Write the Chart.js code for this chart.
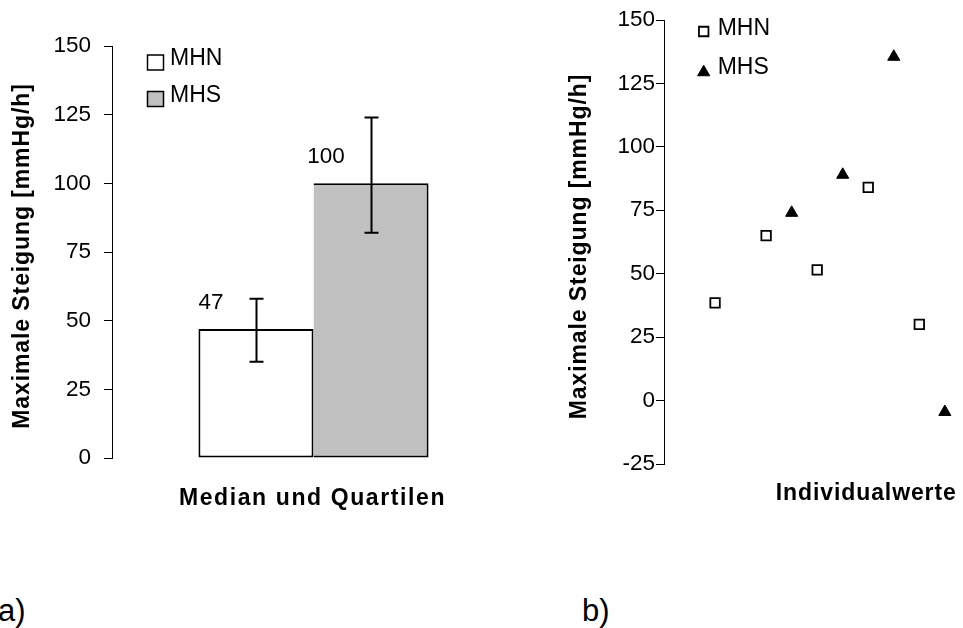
<!DOCTYPE html>
<html>
<head>
<meta charset="utf-8">
<title>Maximale Steigung</title>
<script src="https://cdn.jsdelivr.net/npm/chart.js@4.4.1/dist/chart.umd.min.js"></script>
<style>
  html, body { margin: 0; padding: 0; background: #fff; overflow: hidden; }
  #wrap { position: relative; width: 963px; height: 628px; overflow: hidden; background: #fff; }
  #wrap canvas { position: absolute; top: 0; }
  #chartA { left: 0; }
  #chartB { left: 540px; }
  .panel { position: absolute; font-family: 'Liberation Sans', Arial, Helvetica, sans-serif;
           font-size: 31px; line-height: 31px; color: #000; white-space: nowrap; }
</style>
</head>
<body>
<div id="wrap">
  <canvas id="chartA" width="515" height="560"></canvas>
  <canvas id="chartB" width="541" height="560"></canvas>
  <div class="panel" style="left:-2px; top:595px;">a)</div>
  <div class="panel" style="left:582px; top:595px;">b)</div>
</div>
<script>
// ---- data: panel a) median with quartiles ----
const groupLabels = ['Median und Quartilen'];
const seriesNames = ['MHN', 'MHS'];
const medianMHN = [47];
const medianMHS = [100];
const lowerQuartile = [35, 82];   // MHN, MHS
const upperQuartile = [58, 124];  // MHN, MHS
const yTicksA = [0, 25, 50, 75, 100, 125, 150];

// ---- data: panel b) individual values ----
const mhnIndex = [1, 3, 5, 7, 9];
const mhnValues = [38.5, 65, 51.5, 84, 30];
const mhsIndex = [4, 6, 8, 10];
const mhsValues = [74, 89, 135.5, -4.5];
const yTicksB = [-25, 0, 25, 50, 75, 100, 125, 150];

const yTitle = 'Maximale Steigung [mmHg/h]';
const xTitleA = 'Median und Quartilen';
const xTitleB = 'Individualwerte';

const FONT = "'Liberation Sans', Arial, Helvetica, sans-serif";

// whiskers from lower to upper quartile, centred on each bar
const quartileBars = {
  id: 'quartileBars',
  afterDatasetsDraw(chart, args, opts) {
    const ctx = chart.ctx, y = chart.scales.y;
    ctx.save();
    ctx.strokeStyle = '#000';
    ctx.lineWidth = opts.lineWidth;
    chart.data.datasets.forEach((ds, i) => {
      const bar = chart.getDatasetMeta(i).data[0];
      if (!bar) return;
      const x = Math.round(bar.x) + 0.5;
      const yl = y.getPixelForValue(opts.low[i]);
      const yh = y.getPixelForValue(opts.high[i]);
      const c = opts.capWidth / 2;
      ctx.beginPath();
      ctx.moveTo(x, yl); ctx.lineTo(x, yh);
      ctx.moveTo(x - c, yh); ctx.lineTo(x + c, yh);
      ctx.moveTo(x - c, yl); ctx.lineTo(x + c, yl);
      ctx.stroke();
    });
    ctx.restore();
  }
};

// value labels above each bar
const valueLabels = {
  id: 'valueLabels',
  afterDatasetsDraw(chart, args, opts) {
    const ctx = chart.ctx;
    ctx.save();
    ctx.fillStyle = '#000';
    ctx.font = opts.size + 'px ' + FONT;
    ctx.textAlign = 'center';
    ctx.textBaseline = 'middle';
    chart.data.datasets.forEach((ds, i) => {
      const bar = chart.getDatasetMeta(i).data[0];
      if (!bar) return;
      ctx.fillText(String(ds.data[0]), bar.x + opts.dx, bar.y + opts.dy);
    });
    ctx.restore();
  }
};

function drawMarker(ctx, style, x, y, r) {
  ctx.beginPath();
  if (style === 'triangle') {
    const a = 2 * Math.PI / 3;
    ctx.moveTo(x, y - r);
    ctx.lineTo(x + Math.sin(a) * r, y - Math.cos(a) * r);
    ctx.lineTo(x + Math.sin(2 * a) * r, y - Math.cos(2 * a) * r);
    ctx.closePath();
  } else {
    const s = Math.SQRT1_2 * r;
    ctx.rect(x - s, y - s, 2 * s, 2 * s);
  }
}

// legend placed inside the plot area
const insetLegend = {
  id: 'insetLegend',
  afterDatasetsDraw(chart, args, opts) {
    const ctx = chart.ctx;
    ctx.save();
    chart.data.datasets.forEach((ds, i) => {
      const ty = opts.y + i * opts.rowGap;
      const my = ty + opts.markerDy;
      ctx.fillStyle = ds.backgroundColor;
      ctx.strokeStyle = '#000';
      if (opts.kind === 'box') {
        ctx.lineWidth = 1.5;
        ctx.beginPath();
        ctx.rect(opts.markerX - opts.boxW / 2, my - opts.boxH / 2, opts.boxW, opts.boxH);
        ctx.fill(); ctx.stroke();
      } else {
        const r = ds.pointRadius;
        const off = ds.pointStyle === 'triangle' ? r / 4 : 0;
        ctx.lineWidth = ds.borderWidth;
        drawMarker(ctx, ds.pointStyle, opts.markerX, my + off, r);
        ctx.fill(); ctx.stroke();
      }
      ctx.fillStyle = '#000';
      ctx.font = opts.size + 'px ' + FONT;
      ctx.textAlign = 'left';
      ctx.textBaseline = 'middle';
      ctx.fillText(ds.label, opts.textX, ty);
    });
    ctx.restore();
  }
};

// bold axis titles with a little tracking
const axisTitles = {
  id: 'axisTitles',
  afterDraw(chart, args, opts) {
    const ctx = chart.ctx, a = chart.chartArea;
    ctx.save();
    ctx.fillStyle = '#000';
    ctx.font = 'bold ' + opts.size + 'px ' + FONT;
    ctx.textAlign = 'center';
    ctx.textBaseline = 'middle';
    if ('letterSpacing' in ctx) ctx.letterSpacing = opts.y.spacing + 'px';
    ctx.save();
    ctx.translate(opts.y.x, (a.top + a.bottom) / 2 + opts.y.dy);
    ctx.rotate(-Math.PI / 2);
    ctx.fillText(opts.y.text, 0, 0);
    ctx.restore();
    if ('letterSpacing' in ctx) ctx.letterSpacing = opts.x.spacing + 'px';
    ctx.fillText(opts.x.text, (a.left + a.right) / 2 + opts.x.dx, opts.x.y);
    ctx.restore();
  }
};

function yAxis(ticks, width, padding) {
  return {
    min: ticks[0],
    max: ticks[ticks.length - 1],
    afterBuildTicks: s => { s.ticks = ticks.map(v => ({ value: v })); },
    afterFit: s => { s.width = width; },
    grid: { display: true, drawOnChartArea: false, drawTicks: true, tickLength: 8, color: '#000', lineWidth: 1 },
    border: { display: true, color: '#000', width: 1 },
    ticks: { color: '#000', padding: padding, font: { family: FONT, size: 22.5 } }
  };
}

new Chart(document.getElementById('chartA'), {
  type: 'bar',
  data: {
    labels: groupLabels,
    datasets: [
      { label: seriesNames[0], data: medianMHN, backgroundColor: '#ffffff', borderColor: '#000',
        borderWidth: 2, borderSkipped: false },
      { label: seriesNames[1], data: medianMHS, backgroundColor: '#c0c0c0', borderColor: '#000',
        borderWidth: { top: 2, right: 2, bottom: 2, left: 0 }, borderSkipped: false }
    ]
  },
  options: {
    responsive: false,
    animation: false,
    events: [],
    layout: { padding: { top: 46, left: 0, right: 0, bottom: 0 } },
    datasets: { bar: { categoryPercentage: 0.571, barPercentage: 1 } },
    plugins: {
      legend: { display: false },
      tooltip: { enabled: false },
      quartileBars: { low: lowerQuartile, high: upperQuartile, capWidth: 14, lineWidth: 2 },
      valueLabels: { size: 22.5, dx: -45, dy: -26.5 },
      insetLegend: { kind: 'box', markerX: 155.5, boxW: 16, boxH: 15, textX: 170, y: 59, rowGap: 36.5, markerDy: 3.5, size: 23 },
      axisTitles: { size: 23, y: { text: yTitle, x: 22.5, dy: 4, spacing: 0.9 },
                    x: { text: xTitleA, dx: -1, y: 498.5, spacing: 1.6 } }
    },
    scales: {
      x: { type: 'category', grid: { display: false }, border: { display: false },
           ticks: { display: false }, afterFit: s => { s.height = 102; } },
      y: yAxis(yTicksA, 112, 13)
    }
  },
  plugins: [quartileBars, valueLabels, insetLegend, axisTitles]
});

new Chart(document.getElementById('chartB'), {
  type: 'scatter',
  data: {
    datasets: [
      { label: seriesNames[0], data: mhnIndex.map((x, i) => ({ x: x, y: mhnValues[i] })),
        pointStyle: 'rect', pointRadius: 6.7, backgroundColor: '#ffffff', borderColor: '#000', borderWidth: 1.8 },
      { label: seriesNames[1], data: mhsIndex.map((x, i) => ({ x: x, y: mhsValues[i] })),
        pointStyle: 'triangle', pointRadius: 7, backgroundColor: '#000000', borderColor: '#000', borderWidth: 1 }
    ]
  },
  options: {
    responsive: false,
    animation: false,
    events: [],
    layout: { padding: { top: 20, left: 0, right: 0, bottom: 0 } },
    plugins: {
      legend: { display: false },
      tooltip: { enabled: false },
      insetLegend: { kind: 'point', markerX: 163.7, textX: 177.7, y: 28.7, rowGap: 39, markerDy: 2.8, size: 23 },
      axisTitles: { size: 23, y: { text: yTitle, x: 40, dy: 4.5, spacing: 0.9 },
                    x: { text: xTitleB, dx: -2, y: 493.7, spacing: 0.9 } }
    },
    scales: {
      x: { type: 'linear', min: -1, max: 15, grid: { display: false }, border: { display: false },
           ticks: { display: false }, afterFit: s => { s.height = 96; } },
      y: yAxis(yTicksB, 124, 1)
    }
  },
  plugins: [insetLegend, axisTitles]
});
</script>
</body>
</html>
